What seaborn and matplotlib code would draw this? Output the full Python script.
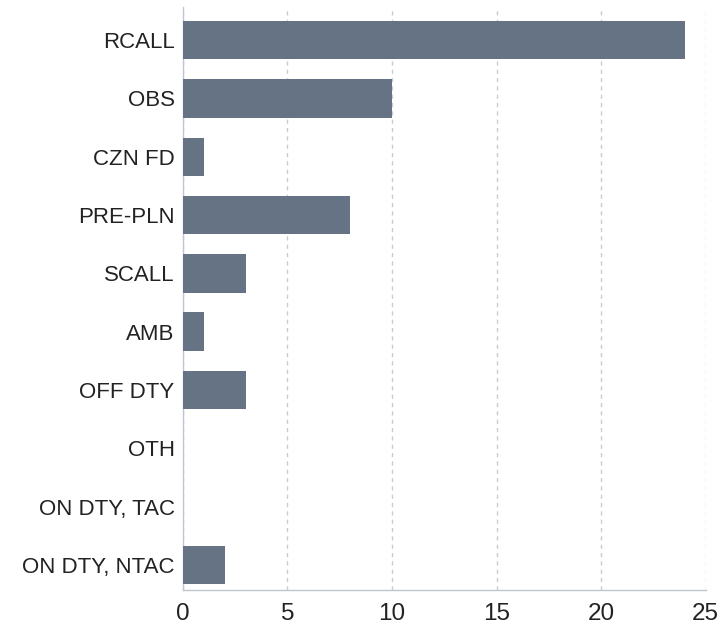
import matplotlib
matplotlib.use("Agg")
import matplotlib.pyplot as plt
import seaborn as sns
import pandas as pd

# === Data ===
categories = ["RCALL", "OBS", "CZN FD", "PRE-PLN", "SCALL", "AMB",
              "OFF DTY", "OTH", "ON DTY, TAC", "ON DTY, NTAC"]
counts = [24, 10, 1, 8, 3, 1, 3, 0, 0, 2]
x_ticks = [0, 5, 10, 15, 20, 25]

df = pd.DataFrame({"category": categories, "count": counts})

sns.set_style("white")
plt.rcParams["font.family"] = ["Liberation Sans", "DejaVu Sans"]

fig, ax = plt.subplots(figsize=(7.23, 6.27), dpi=100)
fig.subplots_adjust(left=0.253, right=0.976, top=0.989, bottom=0.059)

sns.barplot(data=df, x="count", y="category", color="#667385", saturation=1,
            width=0.66, linewidth=0, ax=ax, zorder=3)

ax.set_xlim(0, 25)
ax.set_ylim(len(categories) - 0.57, -0.57)
ax.set_xticks(x_ticks)
ax.set_xlabel("")
ax.set_ylabel("")
ax.xaxis.grid(True, linestyle=(0, (3, 3)), color="#c8ccd4", linewidth=1, zorder=0)
ax.yaxis.grid(False)
ax.tick_params(axis="x", labelsize=17.5, length=0, pad=9, colors="#222222")
ax.tick_params(axis="y", labelsize=16, length=0, pad=6, colors="#222222")

for side in ["top", "right"]:
    ax.spines[side].set_visible(False)
for side in ["left", "bottom"]:
    ax.spines[side].set_color("#c0c6cf")
    ax.spines[side].set_linewidth(1)

plt.savefig("out.png", dpi=100)
